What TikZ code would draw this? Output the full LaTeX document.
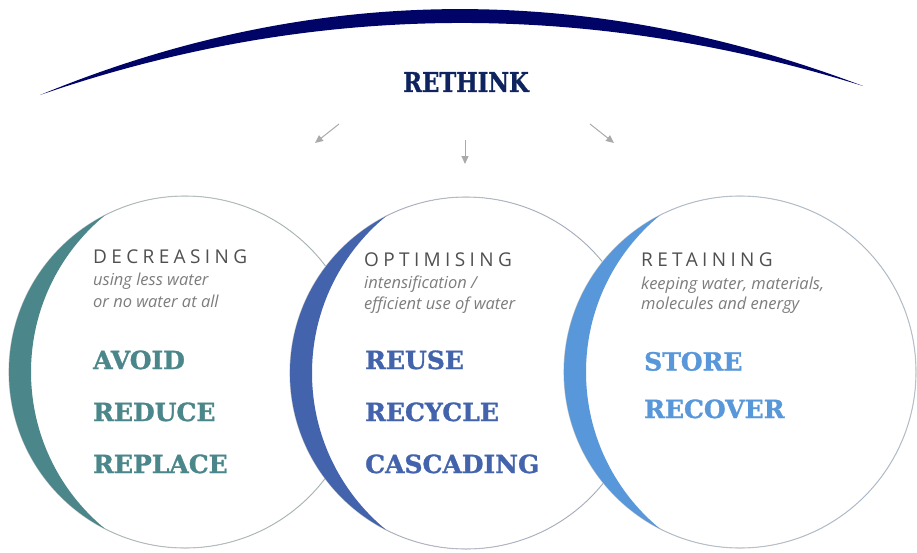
\documentclass[tikz,border=0pt]{standalone}
\usepackage{fontspec}
\usetikzlibrary{arrows.meta,calc}
\newfontfamily\headfont[LetterSpace=23]{Open Sans}
\newfontfamily\subfont{Open Sans}
\newfontfamily\slabfont[FakeBold=1.2]{DejaVu Serif}
\definecolor{tealc}{RGB}{74,134,138}
\definecolor{midblue}{RGB}{67,100,172}
\definecolor{ltblue}{RGB}{87,151,218}
\definecolor{arcnavy}{RGB}{0,4,102}
\definecolor{rethinkc}{RGB}{15,36,94}
\definecolor{arrgray}{RGB}{170,170,170}
\definecolor{ringgray}{RGB}{200,200,200}
\definecolor{headgray}{RGB}{80,80,80}
\definecolor{subgray}{RGB}{125,125,125}
\tikzset{
  ring/.style={draw=ringgray, line width=1.1pt, fill=white},
  headtxt/.style={anchor=base west, inner sep=0pt, text=headgray, font=\headfont\fontsize{19}{22}\selectfont},
  subtxt/.style={anchor=base west, inner sep=0pt, text=subgray, font=\subfont\itshape\fontsize{16.5}{19}\selectfont},
  bigtxt/.style={anchor=base west, inner sep=0pt, font=\slabfont\bfseries\fontsize{25}{30}\selectfont},
  garrow/.style={draw=arrgray, line width=1pt, -{Triangle[length=8pt,width=7pt]}}
}
\newcommand{\ringwith}[3]{% center, color, name
  \fill[white] (#1) circle[radius=176pt];
  \draw[ring] (#1) circle[radius=176pt];
  \begin{scope}
    \clip (#1) circle[radius=176pt];
    \fill[#2, even odd rule] (#1) circle[radius=176pt] ($(#1)+(49,0)$) circle[radius=203pt];
  \end{scope}
}
\begin{document}
\begin{tikzpicture}[x=1pt,y=-1pt]
\useasboundingbox (0,0) rectangle (917,552);
% top arc
\fill[arcnavy] (40,95) .. controls (314,-18) and (589,-18) .. (863,86)
   .. controls (589,0.5) and (314,0.5) .. cycle;
\node[inner sep=0pt, text=rethinkc] (rethink) at (466,82)
   {\scalebox{0.84}[1]{\slabfont\bfseries\fontsize{27}{30}\selectfont RETHINK}};
% arrows
\coordinate (la1) at (339,124); \coordinate (la2) at (315,143);
\coordinate (ma1) at (465,140); \coordinate (ma2) at (465,164);
\coordinate (ra1) at (590,124); \coordinate (ra2) at (614,143);
\draw[garrow] (la1) -- (la2);
\draw[garrow] (ma1) -- (ma2);
\draw[garrow] (ra1) -- (ra2);
% circles
\coordinate (c1) at (185,372);
\coordinate (c2) at (466,373);
\coordinate (c3) at (740,372);
\ringwith{c1}{tealc}{a}
\ringwith{c2}{midblue}{b}
\ringwith{c3}{ltblue}{c}
% left texts
\node[headtxt] (h1) at (93,263) {DECREASING};
\node[subtxt] (s1a) at (93,285) {using less water};
\node[subtxt] (s1b) at (93,307) {or no water at all};
\node[bigtxt, text=tealc] (w1a) at (93,369) {AVOID};
\node[bigtxt, text=tealc] (w1b) at (93,421) {REDUCE};
\node[bigtxt, text=tealc] (w1c) at (93,473) {REPLACE};
% middle texts
\node[headtxt] (h2) at (364,266.5) {OPTIMISING};
\node[subtxt] (s2a) at (364,288) {intensification /};
\node[subtxt] (s2b) at (364,309) {efficient use of water};
\node[bigtxt, text=midblue] (w2a) at (365,369) {REUSE};
\node[bigtxt, text=midblue] (w2b) at (365,421) {RECYCLE};
\node[bigtxt, text=midblue] (w2c) at (365,473) {CASCADING};
% right texts
\node[headtxt] (h3) at (641,266.5) {RETAINING};
\node[subtxt] (s3a) at (641,289) {keeping water, materials,};
\node[subtxt] (s3b) at (641,309) {molecules and energy};
\node[bigtxt, text=ltblue] (w3a) at (644,370.5) {STORE};
\node[bigtxt, text=ltblue] (w3b) at (644,418) {RECOVER};
\end{tikzpicture}
\end{document}
